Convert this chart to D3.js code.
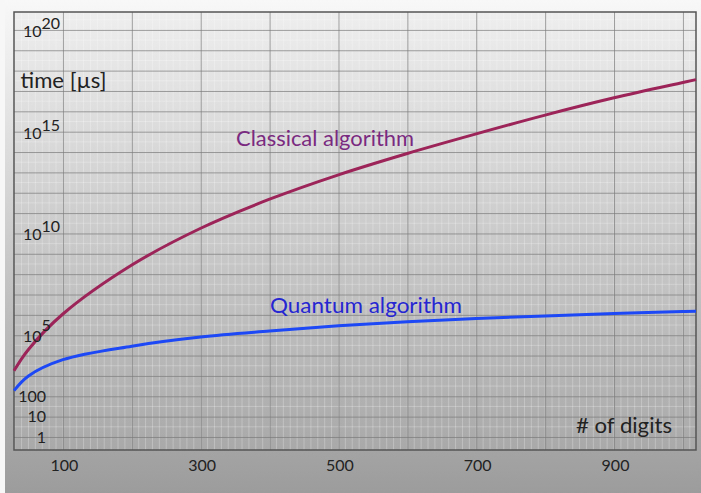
<!DOCTYPE html>
<html>
<head>
<meta charset="utf-8">
<script src="https://cdn.jsdelivr.net/npm/d3@7"></script>
<style>
  html, body { margin: 0; padding: 0; background: #f7f7f7; }
  svg { display: block; font-family: Lato, "Open Sans", sans-serif; }
</style>
</head>
<body>
<svg id="chart" width="701" height="493"></svg>
<script>
// ---- data ----
const digits = [29, 50, 100, 200, 300, 400, 500, 600, 700, 800, 900, 1000, 1019];
const classicalTime = [1.8e3, 2.0e4, 1.1e6, 2.8e8, 1.8e10, 4.8e11, 7.6e12, 8.5e13, 7.8e14, 6.5e15, 4.6e16, 2.6e17, 3.6e17];
const quantumTime   = [1.9e2, 1.0e3, 6.3e3, 2.9e4, 8.1e4, 1.6e5, 2.9e5, 4.6e5, 6.6e5, 8.9e5, 1.17e6, 1.45e6, 1.5e6];
const xTickValues = [100, 300, 500, 700, 900];
const yPowerTicks = [20, 15, 10, 5];
const yPlainTicks = ["100", "10", "1"];
const seriesNames = ["Classical algorithm", "Quantum algorithm"];

(function () {
const svg = d3.select("#chart");
const W = 701, H = 493;
const pL = 14, pR = 696, pT = 12, pB = 450;

const x = d3.scaleLinear().domain([29, 1019]).range([pL, pR]);
const y = d3.scaleLog().domain([Math.pow(10, -0.64), Math.pow(10, 20.88)]).range([pB, pT]);

const defs = svg.append("defs");
const g1 = defs.append("linearGradient").attr("id", "outerGrad").attr("x1", 0).attr("y1", 0).attr("x2", 0).attr("y2", 1);
g1.append("stop").attr("offset", "0%").attr("stop-color", "#f8f8f8");
g1.append("stop").attr("offset", "35%").attr("stop-color", "#d8d8d8");
g1.append("stop").attr("offset", "100%").attr("stop-color", "#9c9c9c");
const g2 = defs.append("linearGradient").attr("id", "plotGrad").attr("x1", 0).attr("y1", 0).attr("x2", 0).attr("y2", 1);
g2.append("stop").attr("offset", "0%").attr("stop-color", "#eeeeee");
g2.append("stop").attr("offset", "40%").attr("stop-color", "#d2d2d2");
g2.append("stop").attr("offset", "100%").attr("stop-color", "#a9a9a9");

svg.append("rect").attr("x", 5).attr("y", 0).attr("width", W - 5).attr("height", H).attr("fill", "url(#outerGrad)");
svg.append("rect").attr("x", pL).attr("y", pT).attr("width", pR - pL).attr("height", pB - pT).attr("fill", "url(#plotGrad)");

// minor vertical gridlines
const minorX = d3.range(30, 1019, 10);
svg.append("g").selectAll("line").data(minorX).join("line")
  .attr("x1", d => x(d)).attr("x2", d => x(d)).attr("y1", pT).attr("y2", pB)
  .attr("stroke", "#ffffff").attr("stroke-opacity", 0.25).attr("stroke-width", 1);
// minor horizontal gridlines (half decades)
const minorY = d3.range(0, 21).map(e => Math.pow(10, e + 0.5));
svg.append("g").selectAll("line").data(minorY).join("line")
  .attr("x1", pL).attr("x2", pR).attr("y1", d => y(d)).attr("y2", d => y(d))
  .attr("stroke", "#ffffff").attr("stroke-opacity", 0.25).attr("stroke-width", 1);

// major gridlines via axes
const xGrid = d3.axisBottom(x).tickValues(d3.range(100, 1001, 100)).tickSize(-(pB - pT)).tickFormat("");
svg.append("g").attr("transform", `translate(0,${pB})`).call(xGrid)
  .call(g => g.select(".domain").remove())
  .call(g => g.selectAll("line").attr("stroke", "#7a7a7a").attr("stroke-opacity", 0.7));
const yGrid = d3.axisLeft(y).tickValues(d3.range(0, 21).map(e => Math.pow(10, e))).tickSize(-(pR - pL)).tickFormat("");
svg.append("g").attr("transform", `translate(${pL},0)`).call(yGrid)
  .call(g => g.select(".domain").remove())
  .call(g => g.selectAll("line").attr("stroke", "#7a7a7a").attr("stroke-opacity", 0.7));

// border
svg.append("rect").attr("x", pL).attr("y", pT).attr("width", pR - pL).attr("height", pB - pT)
  .attr("fill", "none").attr("stroke", "#555").attr("stroke-width", 1.5);

// curves
const line = d3.line().x((d, i) => x(digits[i])).y(d => y(d)).curve(d3.curveCatmullRom.alpha(0.5));
svg.append("path").datum(classicalTime).attr("d", line).attr("fill", "none")
  .attr("stroke", "#9c2458").attr("stroke-width", 3);
svg.append("path").datum(quantumTime).attr("d", line).attr("fill", "none")
  .attr("stroke", "#1c48f5").attr("stroke-width", 3);

// x tick labels
svg.append("g").selectAll("text").data(xTickValues).join("text")
  .attr("x", d => x(d) + 1.5).attr("y", 471).attr("text-anchor", "middle")
  .attr("font-size", 16).attr("fill", "#222").text(d => d);

// y tick labels (powers)
const pw = svg.append("g").selectAll("text").data(yPowerTicks).join("text")
  .attr("x", 23).attr("y", d => y(Math.pow(10, d)) + 7)
  .attr("font-size", 16).attr("fill", "#222");
pw.append("tspan").text("10");
pw.append("tspan").attr("dy", d => d === 5 ? -11 : -8).text(d => d);

// y tick labels (plain)
svg.append("g").selectAll("text").data(yPlainTicks).join("text")
  .attr("x", 46).attr("y", d => y(+d)).attr("dy", "0.36em").attr("text-anchor", "end")
  .attr("font-size", 16).attr("fill", "#222").text(d => d);

// axis titles
svg.append("text").attr("x", 20.5).attr("y", 87.5).attr("font-size", 21).attr("fill", "#222")
  .attr("textLength", 86).attr("lengthAdjust", "spacingAndGlyphs").text("time [µs]");
svg.append("text").attr("x", 576).attr("y", 433).attr("font-size", 21).attr("fill", "#222")
  .attr("textLength", 96).attr("lengthAdjust", "spacingAndGlyphs").text("# of digits");

// series labels
svg.append("text").attr("x", 236).attr("y", 146).attr("font-size", 21).attr("fill", "#7a2a80")
  .attr("textLength", 178).attr("lengthAdjust", "spacingAndGlyphs").text(seriesNames[0]);
svg.append("text").attr("x", 270).attr("y", 313).attr("font-size", 21).attr("fill", "#2626d2")
  .attr("textLength", 192).attr("lengthAdjust", "spacingAndGlyphs").text(seriesNames[1]);
})();
</script>
</body>
</html>
